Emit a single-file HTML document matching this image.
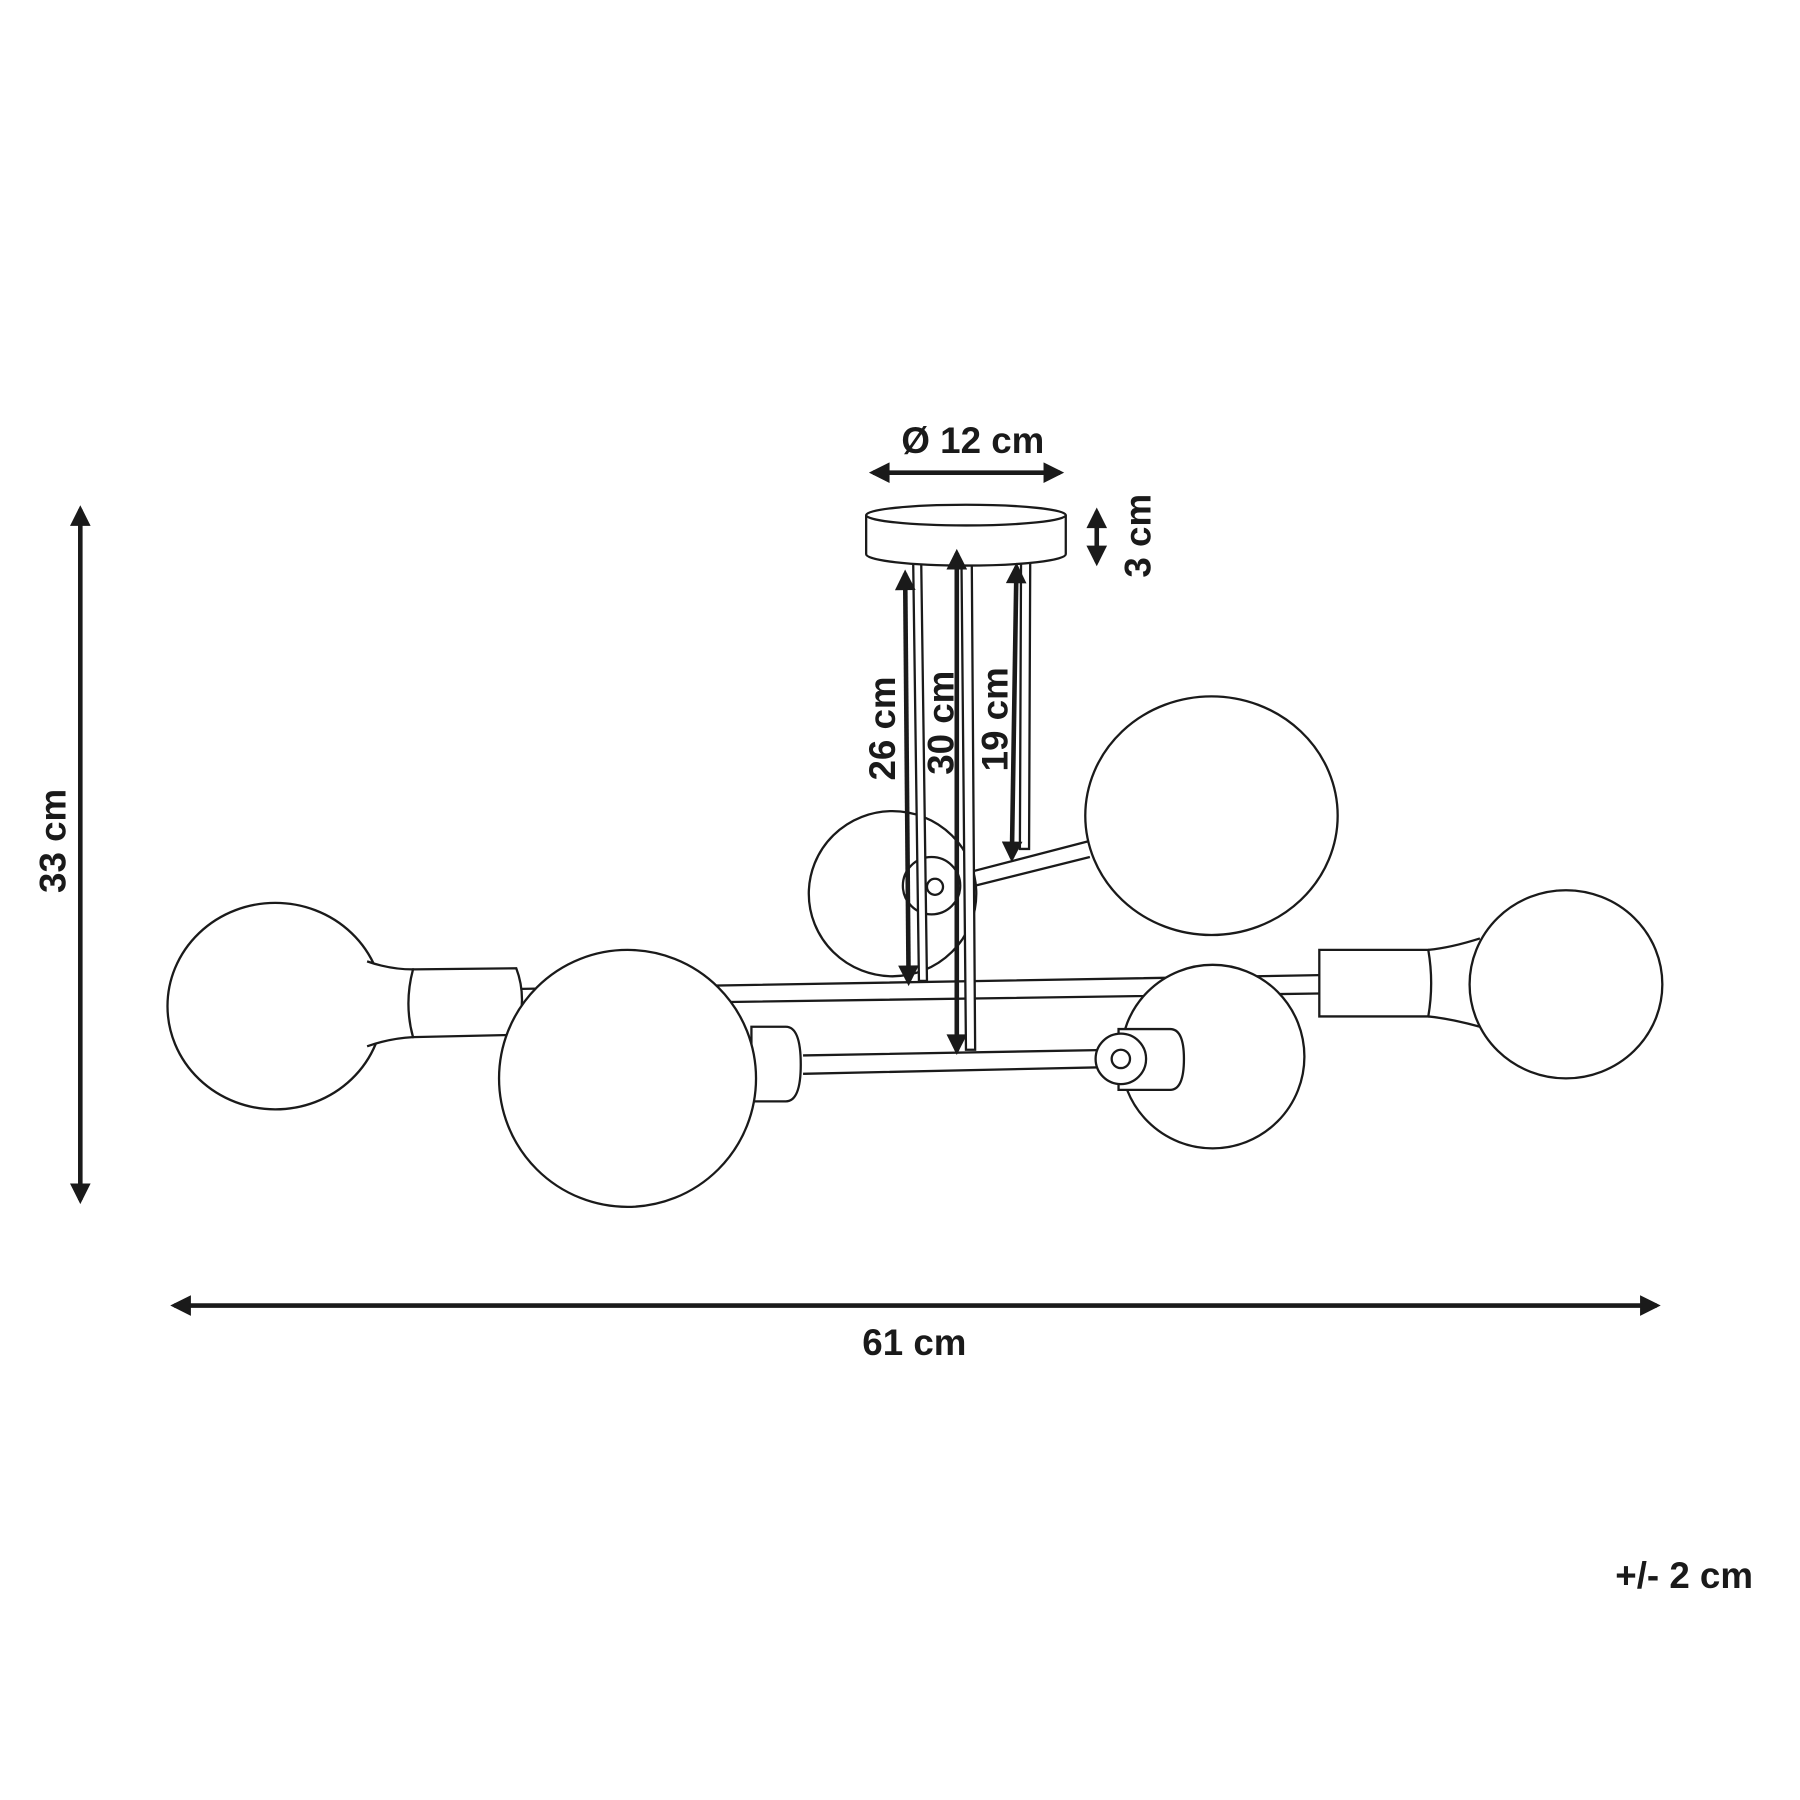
<!DOCTYPE html>
<html><head><style>html,body{margin:0;padding:0;background:#fff}svg{display:block}</style></head>
<body>
<svg width="1800" height="1800" viewBox="0 0 1569 1569" xmlns="http://www.w3.org/2000/svg" font-family="Liberation Sans, sans-serif" font-weight="bold" fill="none" stroke="#1a1a1a">
<defs>
<marker id="a" viewBox="0 0 10 10" refX="8" refY="5" markerWidth="5" markerHeight="4.5" orient="auto-start-reverse"><path d="M0,0 L10,5 L0,10 z" fill="#1a1a1a" stroke="none"/></marker>
</defs>
<g stroke-width="2" fill="#fff">
<path d="M455,862 L1150,850 M455,876 L1150,866" />
<path d="M700,920 L975,915 M700,936 L975,930" />
<path d="M815,768 L950,733 M818,780 L950,747" />
</g>
<g stroke-width="2" fill="#fff">
<ellipse cx="778" cy="779" rx="73" ry="72"/>
<circle cx="812" cy="772" r="25"/>
<circle cx="815" cy="773" r="7"/>
<ellipse cx="1056" cy="711" rx="110" ry="104"/>
<ellipse cx="1057" cy="921" rx="80" ry="80"/>
<path d="M975,897 L1020,897 Q1032,897 1032,923 Q1032,950 1020,950 L975,950 z"/>
<circle cx="977" cy="923" r="22"/>
<circle cx="977" cy="923" r="8"/>
<path d="M655,895 L685,895 Q698,895 698,928 Q698,960 685,960 L655,960 z"/>
<ellipse cx="240" cy="877" rx="94" ry="90"/>
<path d="M320,838 Q340,845 360,845 L360,904 Q340,905 320,912"/>
<path d="M360,845 L450,844 Q460,870 450,902 L360,904 Q352,875 360,845 z"/>
<ellipse cx="547" cy="940" rx="112" ry="112"/>
<ellipse cx="1365" cy="858" rx="84" ry="82"/>
<path d="M1245,828 Q1265,826 1290,818 M1245,886 Q1265,888 1290,895"/>
<path d="M1150,828 L1245,828 Q1250,857 1245,886 L1150,886 z"/>
</g>
<g stroke-width="2" fill="#fff">
<path d="M796,490 L801,855 L808,855 L803,490"/>
<path d="M838,480 L842,915 L850,915 L847,480"/>
<path d="M890,490 L889,740 L897,740 L898,490"/>
</g>
<g stroke-width="2" fill="#fff">
<path d="M755,449 L755,483 A87,10 0 0 0 929,483 L929,449"/>
<ellipse cx="842" cy="449" rx="87" ry="9"/>
</g>
<g stroke-width="4" marker-start="url(#a)" marker-end="url(#a)">
<line x1="70" y1="444" x2="70" y2="1046"/>
<line x1="152" y1="1138" x2="1444" y2="1138"/>
<line x1="761" y1="412" x2="924" y2="412"/>
<line x1="956" y1="446" x2="956" y2="490"/>
<line x1="789" y1="500" x2="792" y2="856"/>
<line x1="834" y1="482" x2="834" y2="916"/>
<line x1="886" y1="494" x2="882" y2="748"/>
</g>
<g fill="#1a1a1a" stroke="none" font-size="32">
<text x="848" y="395" text-anchor="middle">Ø 12 cm</text>
<text x="797" y="1181" text-anchor="middle">61 cm</text>
<text x="1468" y="1384" text-anchor="middle">+/- 2 cm</text>
<text transform="translate(57,733) rotate(-90)" text-anchor="middle">33 cm</text>
<text transform="translate(1003,467) rotate(-90)" text-anchor="middle">3 cm</text>
<text transform="translate(780,635) rotate(-90)" text-anchor="middle">26 cm</text>
<text transform="translate(831,630) rotate(-90)" text-anchor="middle">30 cm</text>
<text transform="translate(878,627) rotate(-90)" text-anchor="middle">19 cm</text>
</g>
</svg>
</body></html>
